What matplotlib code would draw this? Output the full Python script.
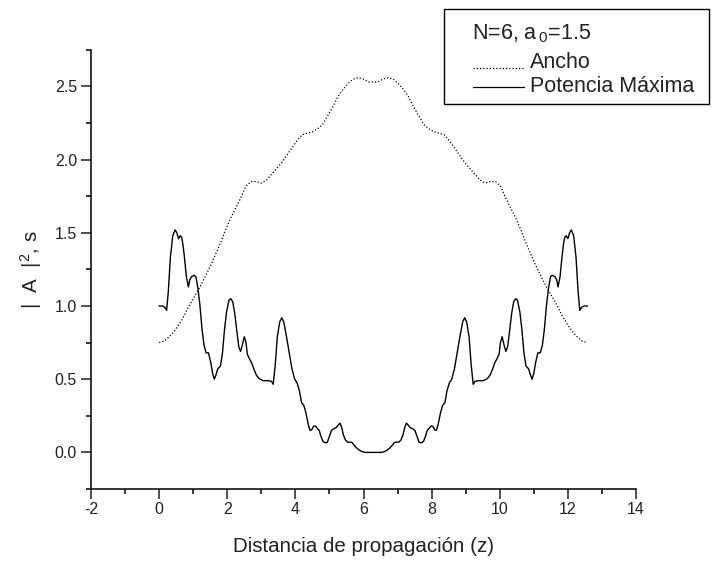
import matplotlib.pyplot as plt
from matplotlib.ticker import MultipleLocator, FormatStrFormatter
from matplotlib.patches import Rectangle
from matplotlib.lines import Line2D

plt.rcParams['font.family'] = ['Liberation Sans', 'DejaVu Sans']
plt.rcParams['mathtext.default'] = 'regular'

# Ancho (ancho del pulso) a lo largo de z
z_ancho = [0.00, 0.15, 0.30, 0.45, 0.60, 0.75, 0.90, 1.05, 1.20, 1.35, 1.50, 1.65,
           1.80, 1.95, 2.10, 2.25, 2.40, 2.55, 2.70, 2.85, 3.00, 3.15, 3.30, 3.45,
           3.60, 3.75, 3.90, 4.05, 4.20, 4.35, 4.50, 4.65, 4.80, 4.95, 5.10, 5.25,
           5.40, 5.55, 5.70, 5.85, 6.00, 6.15, 6.28, 6.42, 6.57, 6.72, 6.87, 7.02,
           7.17, 7.32, 7.47, 7.62, 7.77, 7.92, 8.07, 8.22, 8.37, 8.52, 8.67, 8.82,
           8.97, 9.12, 9.27, 9.42, 9.57, 9.72, 9.87, 10.02, 10.17, 10.32, 10.47,
           10.62, 10.77, 10.92, 11.07, 11.22, 11.37, 11.52, 11.67, 11.82, 11.97,
           12.12, 12.27, 12.42, 12.57]
ancho = [0.75, 0.76, 0.79, 0.83, 0.88, 0.94, 1.01, 1.07, 1.13, 1.20, 1.27, 1.35,
         1.43, 1.52, 1.60, 1.67, 1.74, 1.82, 1.85, 1.85, 1.84, 1.86, 1.90, 1.94,
         1.98, 2.03, 2.08, 2.13, 2.17, 2.18, 2.19, 2.21, 2.24, 2.30, 2.36, 2.43,
         2.48, 2.52, 2.55, 2.56, 2.55, 2.53, 2.53, 2.53, 2.55, 2.56, 2.55, 2.52,
         2.48, 2.43, 2.36, 2.30, 2.24, 2.21, 2.19, 2.18, 2.17, 2.13, 2.08, 2.03,
         1.98, 1.94, 1.90, 1.86, 1.84, 1.85, 1.85, 1.82, 1.74, 1.67, 1.60,
         1.52, 1.43, 1.35, 1.27, 1.20, 1.13, 1.07, 1.01, 0.94, 0.88,
         0.83, 0.79, 0.76, 0.75]

# Potencia maxima |A|^2 a lo largo de z
z_pot = [0.00, 0.10, 0.17, 0.22, 0.27, 0.33, 0.40, 0.47, 0.52, 0.57, 0.62, 0.66,
         0.70, 0.74, 0.80, 0.86, 0.90, 0.95, 1.02, 1.08, 1.14, 1.20, 1.26, 1.32,
         1.38, 1.45, 1.52, 1.57, 1.62, 1.67, 1.72, 1.80, 1.86, 1.92, 1.98, 2.05,
         2.10, 2.16, 2.22, 2.28, 2.34, 2.39, 2.44, 2.50, 2.55, 2.59, 2.65, 2.72,
         2.78, 2.85, 2.93, 3.05, 3.20, 3.30, 3.35, 3.41, 3.47, 3.54, 3.60, 3.66,
         3.74, 3.82, 3.90, 3.98, 4.05, 4.12, 4.18, 4.25, 4.31, 4.38, 4.43, 4.48,
         4.54, 4.59, 4.64, 4.70, 4.75, 4.81, 4.88, 4.94, 5.00, 5.06, 5.12, 5.20,
         5.27, 5.31, 5.36, 5.41, 5.47, 5.53, 5.60, 5.66, 5.72, 5.80, 5.88, 5.96,
         6.05, 6.15, 6.28, 6.42, 6.52, 6.61, 6.69, 6.77, 6.85, 6.91, 6.97, 7.04,
         7.10, 7.16, 7.21, 7.26, 7.30, 7.37, 7.45, 7.51, 7.57, 7.63, 7.69, 7.76,
         7.82, 7.87, 7.93, 7.98, 8.03, 8.09, 8.14, 8.19, 8.26, 8.32, 8.39, 8.45,
         8.52, 8.59, 8.67, 8.75, 8.83, 8.91, 8.97, 9.03, 9.10, 9.16, 9.22, 9.27,
         9.37, 9.52, 9.64, 9.72, 9.79, 9.85, 9.92, 9.98, 10.02, 10.07, 10.13, 10.18,
         10.23, 10.29, 10.35, 10.41, 10.47, 10.52, 10.59, 10.65, 10.71, 10.77, 10.85,
         10.90, 10.95, 11.00, 11.05, 11.12, 11.19, 11.25, 11.31, 11.37, 11.43, 11.49,
         11.55, 11.62, 11.67, 11.71, 11.77, 11.83, 11.87, 11.91, 11.95, 12.00, 12.05,
         12.10, 12.17, 12.24, 12.30, 12.35, 12.40, 12.47, 12.57]
potencia = [1.00, 1.00, 0.99, 0.97, 1.10, 1.33, 1.48, 1.52, 1.50, 1.46, 1.48, 1.47,
            1.42, 1.34, 1.20, 1.13, 1.18, 1.20, 1.21, 1.20, 1.12, 1.00, 0.84, 0.73,
            0.68, 0.68, 0.61, 0.54, 0.50, 0.53, 0.57, 0.59, 0.68, 0.84, 0.96, 1.04,
            1.05, 1.03, 0.95, 0.83, 0.72, 0.69, 0.73, 0.79, 0.75, 0.67, 0.64, 0.61,
            0.57, 0.53, 0.505, 0.49, 0.49, 0.485, 0.465, 0.60, 0.79, 0.89, 0.92, 0.89,
            0.79, 0.68, 0.57, 0.50, 0.475, 0.42, 0.34, 0.32, 0.27, 0.19, 0.15, 0.155,
            0.18, 0.18, 0.165, 0.15, 0.11, 0.075, 0.065, 0.07, 0.11, 0.15, 0.16, 0.17,
            0.19, 0.20, 0.17, 0.12, 0.085, 0.07, 0.07, 0.068, 0.05, 0.03, 0.015, 0.005,
            0.0, 0.0, 0.0, 0.0, 0.0, 0.005, 0.015, 0.03, 0.05, 0.068, 0.07, 0.07,
            0.085, 0.12, 0.17, 0.20, 0.19, 0.17, 0.16, 0.15, 0.11, 0.07, 0.065, 0.075,
            0.11, 0.15, 0.165, 0.18, 0.18, 0.155, 0.15, 0.19, 0.27, 0.32, 0.34, 0.42,
            0.475, 0.50, 0.57, 0.68, 0.79, 0.89, 0.92, 0.89, 0.79, 0.60, 0.465, 0.485,
            0.49, 0.49, 0.505, 0.53, 0.57, 0.61, 0.64, 0.67, 0.75, 0.79, 0.73, 0.69,
            0.72, 0.83, 0.95, 1.03, 1.05, 1.04, 0.96, 0.84, 0.68, 0.59, 0.57,
            0.53, 0.50, 0.54, 0.61, 0.68, 0.68, 0.73, 0.84, 1.00, 1.12, 1.20,
            1.21, 1.20, 1.18, 1.13, 1.20, 1.34, 1.42, 1.47, 1.48, 1.46, 1.50,
            1.52, 1.48, 1.33, 1.10, 0.97, 0.99, 1.00, 1.00]

W, H = 717, 562
fig = plt.figure(figsize=(W / 100, H / 100), dpi=100)
ax = fig.add_axes([91 / W, 1 - 489 / H, (636 - 91) / W, (489 - 49.8) / H])

ax.plot(z_ancho, ancho, color='black', lw=0.9, linestyle=(0, (1, 1.6)))
ax.plot(z_pot, potencia, color='black', lw=1.0)

ax.set_xlim(-2, 14)
ax.set_ylim(-0.25, 2.75)
for s in ['top', 'right']:
    ax.spines[s].set_visible(False)
for s in ['left', 'bottom']:
    ax.spines[s].set_linewidth(1.1)

ax.xaxis.set_major_locator(MultipleLocator(2))
ax.xaxis.set_minor_locator(MultipleLocator(1))
ax.yaxis.set_major_locator(MultipleLocator(0.5))
ax.yaxis.set_minor_locator(MultipleLocator(0.25))
ax.xaxis.set_major_formatter(FormatStrFormatter('%d'))
ax.yaxis.set_major_formatter(FormatStrFormatter('%.1f'))
ax.tick_params(which='major', direction='out', length=7, width=1.1, labelsize=11.5,
               colors='#222222')
ax.tick_params(which='minor', direction='out', length=3.5, width=1.1)
ax.tick_params(axis='x', pad=2)
ax.tick_params(axis='y', pad=3)

ax.set_xlabel('Distancia de propagación (z)', fontsize=14.8, color='#222222', labelpad=15)
ax.set_ylabel('|  A  |$^2$, s', fontsize=14.8, color='#222222', labelpad=8)

# recuadro de leyenda
def fx(px):
    return px / W


def fy(py):
    return 1 - py / H


fig.patches.append(Rectangle((fx(444), fy(104)), fx(709) - fx(444), fy(9) - fy(104),
                             transform=fig.transFigure, fill=False, ec='black', lw=1.0))
fig.text(fx(472), fy(34), 'N=6, a$_{\\,0}$=1.5', fontsize=15.5, va='center', color='#222222')
fig.lines.append(Line2D([fx(473), fx(524)], [fy(68), fy(68)], transform=fig.transFigure,
                        color='black', lw=0.9, linestyle=(0, (1, 1.6))))
fig.text(fx(530), fy(62), 'Ancho', fontsize=15.5, va='center', color='#222222')
fig.lines.append(Line2D([fx(473), fx(524)], [fy(87), fy(87)], transform=fig.transFigure,
                        color='black', lw=0.9))
fig.text(fx(530), fy(87), 'Potencia Máxima', fontsize=15.5, va='center', color='#222222')

fig.savefig('out.png', dpi=100)
